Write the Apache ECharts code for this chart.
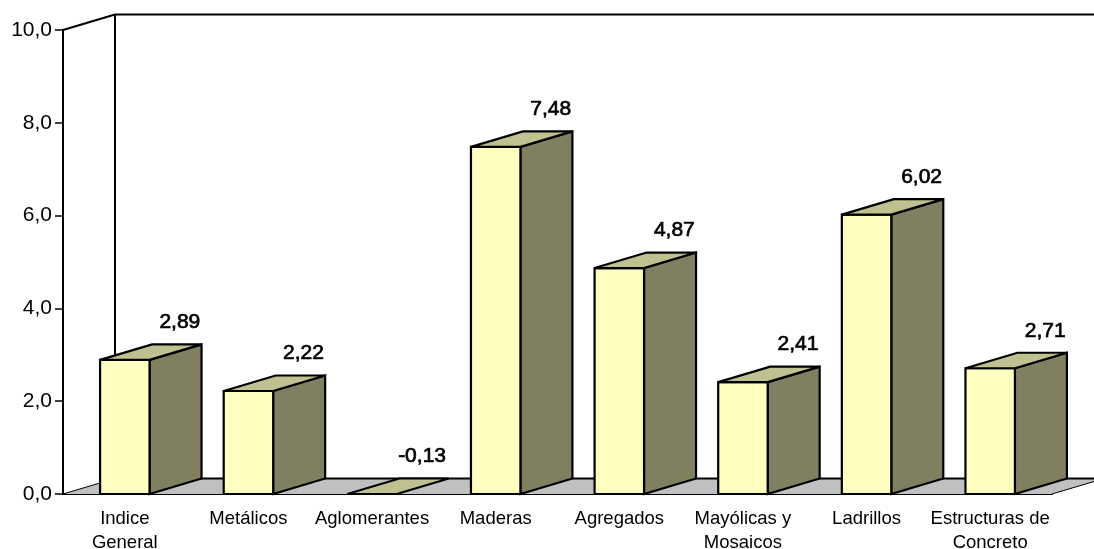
<!DOCTYPE html>
<html><head><meta charset="utf-8">
<style>html,body{margin:0;padding:0;background:#fff}#c{width:1094px;height:549px}</style>
<script src="https://cdn.jsdelivr.net/npm/echarts@6/dist/echarts.min.js"></script>
</head><body><div id="c"></div>
<script>
const categories = ['Indice\nGeneral','Metálicos','Aglomerantes','Maderas','Agregados','Mayólicas y\nMosaicos','Ladrillos','Estructuras de\nConcreto'];
const values = [2.89,2.22,-0.13,7.48,4.87,2.41,6.02,2.71];
const labels = ['2,89','2,22','-0,13','7,48','4,87','2,41','6,02','2,71'];
const DX = 52, DY = -15.5, FONT = '"Liberation Sans", Arial, sans-serif';
const chart = echarts.init(document.getElementById('c'), null, {renderer:'canvas'});
const black = {stroke:'#000', lineWidth:2.2, lineJoin:'miter', miterLimit:2};
function poly(points, fill, extra){
  return {type:'polygon', shape:{points}, style:Object.assign({fill}, black, extra||{})};
}
function line(a, b, w){
  return {type:'line', shape:{x1:a[0],y1:a[1],x2:b[0],y2:b[1]}, style:{stroke:'#000', lineWidth:w||2}};
}
function renderWalls(params, api){
  const cs = params.coordSys;
  const l = cs.x, r = cs.x + cs.width, t = cs.y, b = cs.y + cs.height;
  return {type:'group', children:[
    poly([[l,b],[l+DX,b+DY],[r+DX,b+DY],[r,b]], '#C0C0C0', {stroke:'none'}),
    line([l+DX,b+DY],[r+DX,b+DY]),
    line([r,b],[r+DX,b+DY],1),
    line([l,b],[l+DX,b+DY],1),
    line([l,t],[l+DX,t+DY]),
    line([l+DX,t+DY],[l+DX,b+DY]),
    line([l+DX,t+DY],[r+DX,t+DY])
  ]};
}
function renderBar(params, api){
  const i = api.value(0), raw = api.value(1), v = Math.max(raw, 0);
  const top = api.coord([i, v]), base = api.coord([i, 0]);
  const w = api.size([1,0])[0] * 0.4;
  const x0 = top[0] - w/2, x1 = top[0] + w/2, y0 = top[1], yb = base[1];
  const children = [];
  if (v > 0) {
    children.push(poly([[x1,y0],[x1+DX,y0+DY],[x1+DX,yb+DY],[x1,yb]], '#808060'));
    children.push(poly([[x0,y0],[x1,y0],[x1,yb],[x0,yb]], '#FFFFC0'));
  }
  children.push(poly([[x0,y0],[x0+DX,y0+DY],[x1+DX,y0+DY],[x1,y0]], '#C0C090'));
  children.push({type:'text', style:{
    text: labels[i], x: top[0]+(raw<0?50:55), y: y0+DY-22, align:'center', verticalAlign:'middle',
    fill:'#000', stroke:'#000', lineWidth:0.7, font:'21px '+FONT}});
  return {type:'group', children};
}
chart.setOption({
  animation:false,
  backgroundColor:'#fff',
  grid:{left:63, right:42, top:30, bottom:55, containLabel:false, outerBoundsMode:'none'},
  xAxis:{type:'category', data:categories,
    axisLine:{lineStyle:{color:'#000',width:2}, onZero:false},
    axisTick:{alignWithLabel:false, length:8, lineStyle:{color:'#000',width:1.5}},
    axisLabel:{interval:0, margin:13, color:'#000', fontSize:18.5, lineHeight:24, fontFamily:FONT, verticalAlign:'top'}},
  yAxis:{type:'value', min:0, max:10, interval:2,
    axisLine:{show:true, lineStyle:{color:'#000',width:2}},
    axisTick:{show:true, length:8, lineStyle:{color:'#000',width:1.5}},
    splitLine:{show:false},
    axisLabel:{margin:11, color:'#000', fontSize:21, fontFamily:FONT, formatter:v=>v.toFixed(1).replace('.',',')}},
  series:[
    {type:'custom', renderItem:renderWalls, data:[[0,0]], encode:{x:0,y:1}, z:1, silent:true},
    {type:'custom', renderItem:renderBar, data:values.map((v,i)=>[i,v]), encode:{x:0,y:1}, z:3, silent:true}
  ]
});
</script></body></html>
